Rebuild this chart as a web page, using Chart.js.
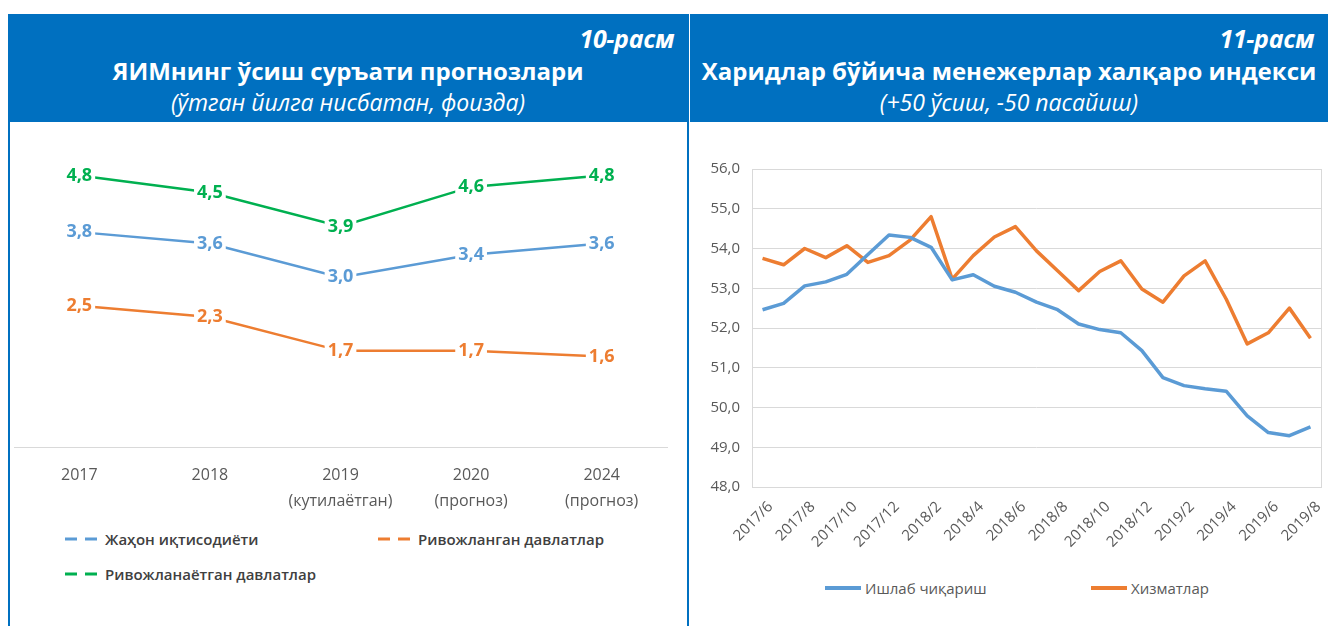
<!DOCTYPE html>
<html>
<head>
<meta charset="utf-8">
<script src="https://cdn.jsdelivr.net/npm/chart.js@4"></script>
<style>
  body { margin: 0; width: 1328px; height: 626px; position: relative; overflow: hidden; background: #fff;
         font-family: "Open Sans", "Noto Sans", sans-serif; }
  .hdr { position: absolute; top: 14px; height: 108px; background: #0070c0; color: #fff; }
  .hdr .num { position: absolute; right: 14px; top: 9px; font-size: 25px; font-weight: 700; font-style: italic; line-height: 1.2; letter-spacing: -0.3px; }
  .hdr .title { position: absolute; left: 0; right: 0; top: 43px; text-align: center; font-size: 24px; font-weight: 700; line-height: 1.2; }
  .hdr .sub { position: absolute; left: 0; right: 0; top: 75px; text-align: center; font-size: 23px; font-style: italic; line-height: 1.2; }
  .vline { position: absolute; top: 14px; bottom: 0; width: 2px; background: #0070c0; }
  .box { position: absolute; }
  .leg { position: absolute; display: flex; align-items: center; font-size: 15px; white-space: nowrap; }
  .leg svg { margin-right: 4px; }
</style>
</head>
<body>
<div class="hdr" style="left:8px; width:680px;">
  <div class="num">10-расм</div>
  <div class="title">ЯИМнинг ўсиш суръати прогнозлари</div>
  <div class="sub">(ўтган йилга нисбатан, фоизда)</div>
</div>
<div class="hdr" style="left:690px; width:638px;">
  <div class="num">11-расм</div>
  <div class="title">Харидлар бўйича менежерлар халқаро индекси</div>
  <div class="sub">(+50 ўсиш, -50 пасайиш)</div>
</div>
<div class="vline" style="left:8px;"></div>
<div class="vline" style="left:687px;"></div>

<div class="box" style="left:10px; top:122px; width:677px; height:400px;"><canvas id="growthChart"></canvas></div>
<div class="box" style="left:690px; top:122px; width:638px; height:438px;"><canvas id="pmiChart"></canvas></div>

<div id="growthLegend"></div>
<div id="pmiLegend"></div>

<script>
// 10-расм: GDP growth forecasts
var yearLabels = [['2017'], ['2018'], ['2019', '(кутилаётган)'], ['2020', '(прогноз)'], ['2024', '(прогноз)']];
var worldGrowth = [3.8, 3.6, 3.0, 3.4, 3.6];
var advancedGrowth = [2.5, 2.3, 1.7, 1.7, 1.6];
var emergingGrowth = [4.8, 4.5, 3.9, 4.6, 4.8];
var growthNames = ['Жаҳон иқтисодиёти', 'Ривожланган давлатлар', 'Ривожланаётган давлатлар'];

// 11-расм: PMI
var pmiMonths = ['2017/6', '2017/7', '2017/8', '2017/9', '2017/10', '2017/11', '2017/12',
    '2018/1', '2018/2', '2018/3', '2018/4', '2018/5', '2018/6', '2018/7', '2018/8', '2018/9',
    '2018/10', '2018/11', '2018/12', '2019/1', '2019/2', '2019/3', '2019/4', '2019/5',
    '2019/6', '2019/7', '2019/8'];
var manufacturingPmi = [52.46, 52.62, 53.06, 53.16, 53.35, 53.85, 54.34, 54.28, 54.03, 53.21,
    53.34, 53.05, 52.9, 52.65, 52.46, 52.1, 51.96, 51.88, 51.43, 50.75, 50.55, 50.47, 50.41,
    49.79, 49.37, 49.29, 49.51];
var servicesPmi = [53.75, 53.59, 54.0, 53.77, 54.07, 53.65, 53.82, 54.21, 54.8, 53.23, 53.82,
    54.29, 54.55, 53.94, 53.44, 52.94, 53.42, 53.69, 52.98, 52.65, 53.31, 53.69, 52.73, 51.6,
    51.88, 52.5, 51.74];
var pmiNames = ['Ишлаб чиқариш', 'Хизматлар'];

var blue = '#5b9bd5', orange = '#ed7d31', green = '#00b050';
var fontFamily = '"Open Sans", "Noto Sans", sans-serif';

function fmt(v) { return v.toFixed(1).replace('.', ','); }

// value labels sitting on the points, with white background hiding the line
var pointLabels = {
    id: 'pointLabels',
    afterDatasetsDraw: function (chart) {
        var ctx = chart.ctx;
        ctx.save();
        ctx.font = 'bold 18px ' + fontFamily;
        ctx.textAlign = 'center';
        ctx.textBaseline = 'middle';
        chart.data.datasets.forEach(function (ds, di) {
            chart.getDatasetMeta(di).data.forEach(function (pt, i) {
                var txt = fmt(ds.data[i]);
                var w = ctx.measureText(txt).width;
                ctx.fillStyle = '#fff';
                ctx.fillRect(pt.x - w / 2 - 3, pt.y - 11, w + 6, 22);
                ctx.fillStyle = ds.borderColor;
                ctx.fillText(txt, pt.x, pt.y);
            });
        });
        ctx.restore();
    }
};

var plotBorder = {
    id: 'plotBorder',
    beforeDatasetsDraw: function (chart) {
        var a = chart.chartArea, ctx = chart.ctx;
        ctx.save();
        ctx.strokeStyle = '#d9d9d9';
        ctx.lineWidth = 1;
        ctx.strokeRect(Math.round(a.left) + 0.5, Math.round(a.top) + 0.5, Math.round(a.right - a.left), Math.round(a.bottom - a.top));
        ctx.restore();
    }
};

new Chart(document.getElementById('growthChart'), {
    type: 'line',
    data: {
        labels: yearLabels,
        datasets: [
            { label: growthNames[0], data: worldGrowth, borderColor: blue },
            { label: growthNames[1], data: advancedGrowth, borderColor: orange },
            { label: growthNames[2], data: emergingGrowth, borderColor: green }
        ]
    },
    options: {
        responsive: true,
        maintainAspectRatio: false,
        animation: false,
        layout: { padding: { top: 14, right: 20, left: 4, bottom: 0 } },
        elements: { line: { borderWidth: 2.5, tension: 0 }, point: { radius: 0 } },
        plugins: { legend: { display: false }, tooltip: { enabled: false } },
        scales: {
            x: {
                offset: true,
                grid: { display: false },
                border: { color: '#d9d9d9' },
                ticks: { color: '#595959', font: { family: fontFamily, size: 16, lineHeight: 1.6 }, padding: 8, maxRotation: 0 },
                afterFit: function (s) { s.height = 75; }
            },
            y: { display: false, min: 0, max: 5.5 }
        }
    },
    plugins: [pointLabels]
});

new Chart(document.getElementById('pmiChart'), {
    type: 'line',
    data: {
        labels: pmiMonths,
        datasets: [
            { label: pmiNames[0], data: manufacturingPmi, borderColor: blue },
            { label: pmiNames[1], data: servicesPmi, borderColor: orange }
        ]
    },
    options: {
        responsive: true,
        maintainAspectRatio: false,
        animation: false,
        layout: { padding: { top: 47, right: 7, left: 0, bottom: 0 } },
        elements: { line: { borderWidth: 3.5, tension: 0, borderJoinStyle: 'round' }, point: { radius: 0 } },
        plugins: { legend: { display: false }, tooltip: { enabled: false } },
        scales: {
            x: {
                offset: true,
                grid: { display: false },
                border: { display: false },
                ticks: {
                    autoSkip: false, minRotation: 45, maxRotation: 45, color: '#595959',
                    font: { family: fontFamily, size: 15 }, padding: 3, labelOffset: 8,
                    callback: function (v, i) { return i % 2 === 0 ? pmiMonths[i] : ''; }
                },
                afterFit: function (s) { s.height = 73; }
            },
            y: {
                min: 48, max: 56,
                grid: { color: '#d9d9d9', drawTicks: false },
                border: { display: false },
                ticks: { stepSize: 1, color: '#595959', font: { family: fontFamily, size: 15 }, padding: 12, callback: function (v) { return fmt(v); } },
                afterFit: function (s) { s.width = 62; }
            }
        }
    },
    plugins: [plotBorder]
});

// legends
function legendItem(container, x, y, text, color, dashed, weight, textColor) {
    var d = document.createElement('div');
    d.className = 'leg';
    d.style.left = x + 'px';
    d.style.top = (y - 11) + 'px';
    d.style.fontWeight = weight;
    d.style.color = textColor;
    var dash = dashed ? ' stroke-dasharray="12,8"' : '';
    var sw = dashed ? 3 : 4;
    d.innerHTML = '<svg width="36" height="6"><line x1="0" y1="3" x2="36" y2="3" stroke="' + color + '" stroke-width="' + sw + '"' + dash + '/></svg>' + text;
    container.appendChild(d);
}
var gl = document.getElementById('growthLegend');
legendItem(gl, 65, 540, growthNames[0], blue, true, 600, '#404040');
legendItem(gl, 378, 540, growthNames[1], orange, true, 600, '#404040');
legendItem(gl, 65, 575, growthNames[2], green, true, 600, '#404040');
var pl = document.getElementById('pmiLegend');
legendItem(pl, 825, 589, pmiNames[0], blue, false, 400, '#595959');
legendItem(pl, 1091, 589, pmiNames[1], orange, false, 400, '#595959');
</script>
</body>
</html>
